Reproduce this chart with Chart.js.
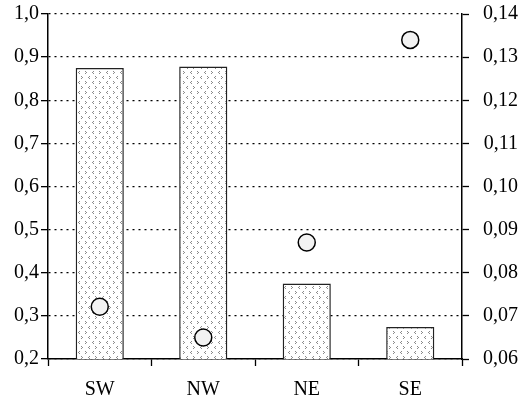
<!DOCTYPE html>
<html>
<head>
<meta charset="utf-8">
<script src="https://cdn.jsdelivr.net/npm/chart.js@4"></script>
<style>
html,body{margin:0;padding:0;background:#fff;}
#wrap{width:518px;height:401px;}
</style>
</head>
<body>
<div id="wrap"><canvas id="c" width="518" height="401"></canvas></div>
<script>
const categories = ['SW', 'NW', 'NE', 'SE'];
const barValues = [0.875, 0.878, 0.375, 0.274];
const pointValues = [0.0721, 0.0650, 0.0870, 0.1340];
const leftTickLabels = ['0,2','0,3','0,4','0,5','0,6','0,7','0,8','0,9','1,0'];
const rightTickLabels = ['0,06','0,07','0,08','0,09','0,10','0,11','0,12','0,13','0,14'];

function makePattern() {
  const p = document.createElement('canvas');
  p.width = 14; p.height = 10;
  const g = p.getContext('2d');
  g.fillStyle = '#fff';
  g.fillRect(0, 0, 14, 10);
  g.fillStyle = '#8a8a8a';
  function right(x, y) { g.fillRect(x, y, 1, 1); g.fillRect(x + 1, y + 1, 1, 1); g.fillRect(x, y + 2, 1, 1); }
  function left(x, y) { g.fillRect(x + 1, y, 1, 1); g.fillRect(x, y + 1, 1, 1); g.fillRect(x + 1, y + 2, 1, 1); }
  right(1, 1); left(8, 1);
  left(4, 6); right(11, 6);
  return document.getElementById('c').getContext('2d').createPattern(p, 'repeat');
}

const font = { family: '"Liberation Serif", "Times New Roman", serif', size: 20 };

new Chart(document.getElementById('c'), {
  data: {
    labels: categories,
    datasets: [
      {
        type: 'line',
        data: pointValues,
        yAxisID: 'y1',
        showLine: false,
        pointRadius: 8.5,
        pointHoverRadius: 8.5,
        pointBackgroundColor: '#f2f2f2',
        pointBorderColor: '#000',
        pointBorderWidth: 1.5,
        order: 0
      },
      {
        type: 'bar',
        data: barValues,
        yAxisID: 'y',
        backgroundColor: makePattern(),
        borderColor: '#222',
        borderWidth: 1.5,
        borderSkipped: false,
        barPercentage: 0.465,
        categoryPercentage: 1.0,
        order: 1
      }
    ]
  },
  options: {
    responsive: false,
    animation: false,
    events: [],
    layout: { padding: { top: 14, left: 0, right: 0, bottom: 0 } },
    plugins: { legend: { display: false }, tooltip: { enabled: false } },
    scales: {
      x: {
        offset: true,
        grid: { display: true, drawOnChartArea: false, drawTicks: true, tickLength: 7, color: '#000', tickWidth: 1.3 },
        border: { display: true, color: '#000', width: 1.5 },
        ticks: { color: '#000', font: font, padding: 12 },
        afterFit: s => { s.height = 42; }
      },
      y: {
        position: 'left',
        min: 0.2, max: 1.0,
        grid: { color: '#000', lineWidth: 1.3, tickLength: 7, tickColor: '#000', tickWidth: 1.3 },
        border: { display: true, color: '#000', width: 1.5, dash: [2, 4] },
        ticks: { stepSize: 0.1, color: '#000', font: font, padding: 2,
          callback: (v, i) => leftTickLabels[i] },
        afterFit: s => { s.width = 48; }
      },
      y1: {
        position: 'right',
        min: 0.06, max: 0.14,
        grid: { drawOnChartArea: false, tickLength: 7, tickColor: '#000', tickWidth: 1.3 },
        border: { display: true, color: '#000', width: 1.5 },
        ticks: { stepSize: 0.01, color: '#000', font: font, padding: 2, crossAlign: 'far',
          callback: (v, i) => rightTickLabels[i] },
        afterFit: s => { s.width = 56; }
      }
    }
  }
});
</script>
</body>
</html>
